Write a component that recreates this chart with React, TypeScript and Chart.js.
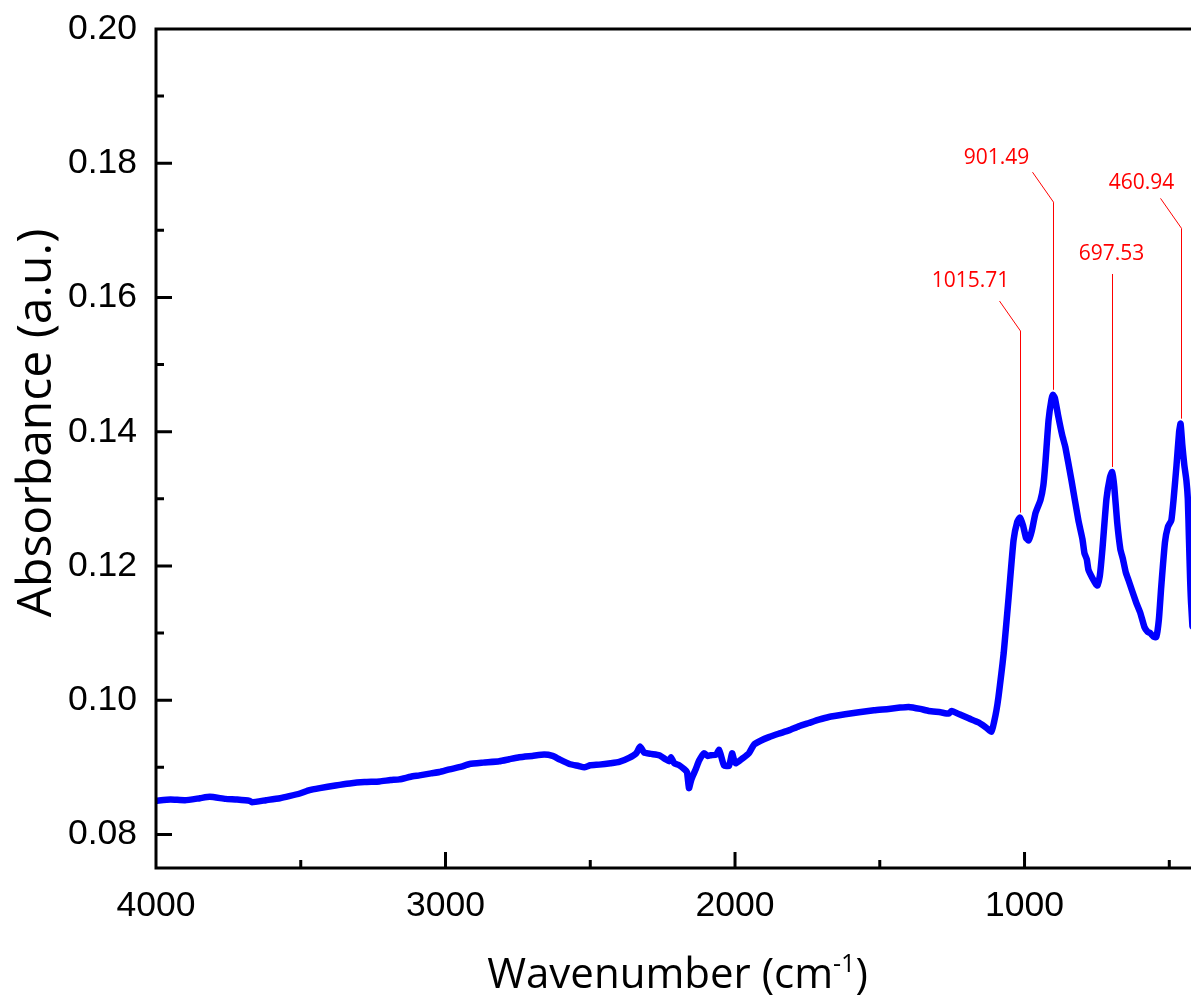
import React, { useEffect, useRef } from 'react';
import { Chart, registerables } from 'chart.js';

Chart.register(...registerables);

const wavenumbers = [
  4000, 3950, 3900, 3848, 3814, 3760, 3720, 3676, 3669, 3620, 3572, 3540, 3503, 3470, 3434, 3380,
  3331, 3280, 3228, 3190, 3159, 3120, 3090, 3050, 3021, 2986, 2945, 2917, 2870, 2814, 2780, 2745,
  2700, 2659, 2630, 2607, 2572, 2540, 2521, 2500, 2469, 2430, 2400, 2366, 2341, 2328, 2314, 2290,
  2262, 2240, 2228, 2221, 2210, 2193, 2175, 2166, 2159, 2152, 2145, 2135, 2124, 2107, 2095, 2083,
  2065, 2055, 2045, 2038, 2021, 2010, 2003, 1997, 1975, 1952, 1934, 1910, 1883, 1850, 1814, 1780,
  1745, 1710, 1676, 1620, 1572, 1520, 1469, 1430, 1400, 1360, 1331, 1290, 1262, 1252, 1225, 1193,
  1159, 1135, 1114, 1105, 1097, 1090, 1080, 1072, 1055, 1038, 1025, 1015.71, 1005, 995, 986, 975,
  962, 945, 935, 928, 917, 907, 901.49, 895, 883, 870, 859, 838, 814, 800, 793, 785, 779, 762, 752,
  748, 740, 731, 717, 705, 697.53, 690, 680, 669, 660, 650, 641, 614, 600, 586, 575, 566, 555, 545,
  536, 528, 515, 505, 493, 485, 475, 466, 460.94, 455, 448, 441, 436, 432, 428, 424, 420,
];

const absorbance = [
  0.0850, 0.0852, 0.0851, 0.0854, 0.0856, 0.0853, 0.0852, 0.0850, 0.0848, 0.0851, 0.0854, 0.0857, 0.0861, 0.0866, 0.0869, 0.0873,
  0.0876, 0.0878, 0.0879, 0.0881, 0.0882, 0.0886, 0.0888, 0.0891, 0.0893, 0.0897, 0.0901, 0.0905, 0.0907, 0.0909, 0.0912, 0.0915,
  0.0917, 0.0919, 0.0917, 0.0912, 0.0905, 0.0902, 0.0900, 0.0903, 0.0904, 0.0906, 0.0908, 0.0914, 0.0921, 0.0931, 0.0922, 0.0920,
  0.0918, 0.0912, 0.0909, 0.0915, 0.0906, 0.0903, 0.0897, 0.0893, 0.0869, 0.0880, 0.0888, 0.0898, 0.0910, 0.0921, 0.0917, 0.0918,
  0.0919, 0.0926, 0.0912, 0.0903, 0.0902, 0.0921, 0.0910, 0.0906, 0.0913, 0.0921, 0.0934, 0.0940, 0.0945, 0.0950, 0.0955, 0.0961,
  0.0966, 0.0971, 0.0975, 0.0979, 0.0982, 0.0985, 0.0987, 0.0989, 0.0990, 0.0987, 0.0984, 0.0982, 0.0980, 0.0984, 0.0979, 0.0973,
  0.0967, 0.0960, 0.0953, 0.0968, 0.0985, 0.1005, 0.1040, 0.1070, 0.1153, 0.1238, 0.1266, 0.1272, 0.1260, 0.1242, 0.1238, 0.1252,
  0.1279, 0.1298, 0.1320, 0.1353, 0.1417, 0.1448, 0.1455, 0.1450, 0.1422, 0.1395, 0.1377, 0.1328, 0.1268, 0.1240, 0.1219, 0.1210, 0.1194, 0.1179, 0.1172,
  0.1171, 0.1185, 0.1225, 0.1300, 0.1332, 0.1340, 0.1318, 0.1265, 0.1225, 0.1210, 0.1190, 0.1179, 0.1145, 0.1130, 0.1109, 0.1102, 0.1100, 0.1095, 0.1094,
  0.1120, 0.1168, 0.1235, 0.1258, 0.1268, 0.1300, 0.1350, 0.1400, 0.1412, 0.1380, 0.1350, 0.1328, 0.1300, 0.1240, 0.1180, 0.1140, 0.1110,
];

const xMajorTicks = [4000, 3000, 2000, 1000];
const xMinorTicks = [3500, 2500, 1500, 500];
const yMajorTicks = [0.08, 0.10, 0.12, 0.14, 0.16, 0.18, 0.20];
const yMinorTicks = [0.09, 0.11, 0.13, 0.15, 0.17, 0.19];

const peakPositions = [1015.71, 901.49, 697.53, 460.94];
const peakLabels = ['1015.71', '901.49', '697.53', '460.94'];
const labelLevels = [0.155, 0.1742, 0.1635, 0.1703];

const xTitle = 'Wavenumber (cm';
const xTitleSup = '-1';
const yTitle = 'Absorbance (a.u.)';

// label layout: [textDx, textDy, hasElbow]
const labelLayout: Array<[number, number, boolean]> = [
  [-50, -44, true],
  [-57, -38, true],
  [-1, -14, false],
  [-40, -39, true],
];

const framePlugin = {
  id: 'frame',
  afterDraw(chart: any) {
    const ctx = chart.ctx;
    const xs = chart.scales.x;
    const ys = chart.scales.y;
    const a = chart.chartArea;
    ctx.save();
    ctx.strokeStyle = '#000';
    ctx.lineWidth = 3;
    ctx.lineCap = 'butt';
    ctx.beginPath();
    ctx.moveTo(a.left, a.top - 1.5);
    ctx.lineTo(a.left, a.bottom + 1.5);
    ctx.moveTo(a.left - 1.5, a.top);
    ctx.lineTo(a.right, a.top);
    ctx.moveTo(a.left - 1.5, a.bottom);
    ctx.lineTo(a.right, a.bottom);
    for (const v of yMajorTicks) {
      const py = ys.getPixelForValue(v);
      ctx.moveTo(a.left, py);
      ctx.lineTo(a.left + 16, py);
    }
    for (const v of yMinorTicks) {
      const py = ys.getPixelForValue(v);
      ctx.moveTo(a.left, py);
      ctx.lineTo(a.left + 8, py);
    }
    for (const v of xMajorTicks) {
      const px = xs.getPixelForValue(v);
      ctx.moveTo(px, a.bottom);
      ctx.lineTo(px, a.bottom - 16);
    }
    for (const v of xMinorTicks) {
      const px = xs.getPixelForValue(v);
      ctx.moveTo(px, a.bottom);
      ctx.lineTo(px, a.bottom - 8);
    }
    ctx.stroke();

    // peak annotations
    ctx.strokeStyle = '#FF0000';
    ctx.fillStyle = '#FF0000';
    ctx.lineWidth = 1;
    ctx.font = '21px "Open Sans"';
    ctx.textAlign = 'center';
    ctx.textBaseline = 'alphabetic';
    peakPositions.forEach((p, i) => {
      const idx = wavenumbers.indexOf(p);
      const px = Math.round(xs.getPixelForValue(p)) + 0.5;
      const peakY = ys.getPixelForValue(absorbance[idx]) - 5;
      const kinkY = ys.getPixelForValue(labelLevels[i]);
      const [tdx, tdy, elbow] = labelLayout[i];
      ctx.beginPath();
      ctx.moveTo(px, peakY);
      ctx.lineTo(px, kinkY);
      if (elbow) ctx.lineTo(px - 21, kinkY - 30);
      ctx.stroke();
      ctx.fillText(peakLabels[i], px + tdx, kinkY + tdy);
    });

    // axis titles
    ctx.fillStyle = '#000';
    ctx.textBaseline = 'alphabetic';
    ctx.font = '42px "Open Sans"';
    const mainW = ctx.measureText(xTitle).width;
    ctx.font = '25px "Open Sans"';
    const supW = ctx.measureText(xTitleSup).width;
    ctx.font = '42px "Open Sans"';
    const closeW = ctx.measureText(')').width;
    const total = mainW + supW + closeW;
    const cx = (a.left + a.right) / 2 + 4;
    let sx = cx - total / 2;
    const baseY = 988;
    ctx.textAlign = 'left';
    ctx.fillText(xTitle, sx, baseY);
    sx += mainW;
    ctx.font = '25px "Open Sans"';
    ctx.fillText(xTitleSup, sx, baseY - 16);
    sx += supW;
    ctx.font = '42px "Open Sans"';
    ctx.fillText(')', sx, baseY);

    ctx.font = '48px "Open Sans"';
    ctx.translate(51, 423);
    ctx.rotate(-Math.PI / 2);
    ctx.textAlign = 'center';
    ctx.fillText(yTitle, 0, 0);
    ctx.restore();
  },
};

export default function App() {
  const ref = useRef<HTMLCanvasElement | null>(null);
  useEffect(() => {
    if (!ref.current) return;
    const chart = new Chart(ref.current, {
      type: 'line',
      data: {
        datasets: [
          {
            data: wavenumbers.map((x, i) => ({ x, y: absorbance[i] })),
            borderColor: '#0000FF',
            borderWidth: 6.5,
            pointRadius: 0,
            tension: 0.15,
            fill: false,
            borderJoinStyle: 'round',
            borderCapStyle: 'round',
          },
        ],
      },
      options: {
        responsive: false,
        animation: false,
        layout: { padding: { top: 29, left: 0, right: 0, bottom: 0 } },
        plugins: { legend: { display: false }, tooltip: { enabled: false } },
        scales: {
          x: {
            type: 'linear',
            reverse: true,
            min: 425,
            max: 4000,
            grid: { display: false, drawTicks: false },
            border: { display: false },
            afterBuildTicks: (s: any) => {
              s.ticks = xMajorTicks.map((v) => ({ value: v }));
            },
            afterFit: (s: any) => {
              s.height = 129;
              s.paddingLeft = 0;
              s.paddingRight = 0;
            },
            ticks: {
              font: { family: 'Liberation Sans', size: 35.5 },
              color: '#000',
              padding: 17,
              maxRotation: 0,
              autoSkip: false,
              callback: (v: any) => String(v),
            },
          },
          y: {
            type: 'linear',
            min: 0.075,
            max: 0.2,
            grid: { display: false, drawTicks: false },
            border: { display: false },
            afterBuildTicks: (s: any) => {
              s.ticks = yMajorTicks.map((v) => ({ value: v }));
            },
            afterFit: (s: any) => {
              s.width = 156;
              s.paddingTop = 0;
              s.paddingBottom = 0;
            },
            ticks: {
              font: { family: 'Liberation Sans', size: 35.5 },
              color: '#000',
              padding: 19,
              autoSkip: false,
              callback: (v: any) => Number(v).toFixed(2),
            },
          },
        },
      },
      plugins: [framePlugin],
    });
    return () => chart.destroy();
  }, []);
  return (
    <div style={{ position: 'absolute', left: 0, top: 0, width: 1191, height: 997, background: '#fff' }}>
      <canvas ref={ref} width={1191} height={997} style={{ display: 'block' }} />
    </div>
  );
}
